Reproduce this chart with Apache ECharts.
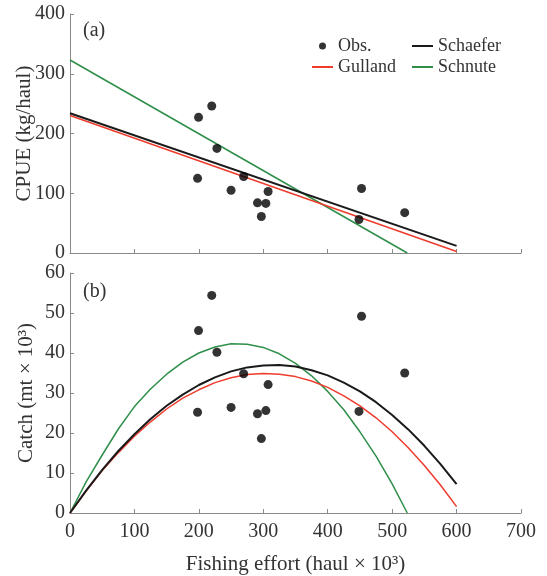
<!DOCTYPE html>
<html>
<head>
<meta charset="utf-8">
<script src="https://cdn.jsdelivr.net/npm/echarts@6/dist/echarts.min.js"></script>
<style>
html,body{margin:0;padding:0;background:#fff;}
#chart{width:547px;height:576px;}
</style>
</head>
<body>
<div id="chart"></div>
<script>
// ---- Data ----
const effortObs = [199.5, 220, 228, 198, 250, 269.5, 291, 304, 297, 307.5, 452.5, 448.5, 519.5];
const cpueObs   = [227, 246, 175, 125, 105, 128, 84, 83, 61, 103, 108, 56, 67.5];
const catchObs  = [45.6, 54.4, 40.2, 25.2, 26.4, 34.8, 24.8, 25.6, 18.6, 32.1, 49.2, 25.4, 35.0];

// panel (a) fitted CPUE lines
const effortFit        = [0, 600];
const schaeferCPUE     = [234, 12];
const gullandCPUE      = [230, 2.6];
const effortSchnuteFit = [0, 523.5];
const schnuteCPUE      = [323, 0];

// panel (b) fitted catch curves
const effortCurve   = [0, 25, 50, 75, 100, 125, 150, 175, 200, 225, 250, 275, 300, 325, 350, 375, 400, 425, 450, 475, 500, 525, 550, 575, 600];
const schaeferCatch = [0, 5.6, 10.8, 15.5, 19.7, 23.5, 26.8, 29.6, 32.0, 33.9, 35.4, 36.4, 36.9, 37.0, 36.6, 35.7, 34.4, 32.6, 30.4, 27.7, 24.5, 20.9, 16.8, 12.2, 7.2];
const gullandCatch  = [0, 5.5, 10.6, 15.1, 19.2, 22.8, 26.0, 28.7, 30.8, 32.6, 33.8, 34.6, 34.9, 34.7, 34.1, 33.0, 31.4, 29.3, 26.8, 23.8, 20.3, 16.3, 11.9, 7.0, 1.6];
const effortSchnuteCurve = [0, 25, 50, 75, 100, 125, 150, 175, 200, 225, 250, 275, 300, 325, 350, 375, 400, 425, 450, 475, 500, 523.5];
const schnuteCatch  = [0, 7.8, 14.5, 21.0, 26.6, 31.0, 34.7, 37.7, 40.0, 41.5, 42.3, 42.2, 41.4, 39.8, 37.4, 34.3, 30.4, 25.8, 20.3, 14.2, 7.3, 0];

const xTicks = [0, 100, 200, 300, 400, 500, 600, 700];

// ---- build ----
const pair = (xs, ys) => xs.map((x, i) => [x, ys[i]]);
const FONT = 'Liberation Serif, Times New Roman, serif';
const AXIS = '#8a8a8a';
const TXT = '#333';
const BLACK = '#1a1a1a', RED = '#ee3b2b', GREEN = '#2f8f4a';

function xAxisCfg(idx, showLabels) {
  return {
    gridIndex: idx, type: 'value', min: xTicks[0], max: xTicks[xTicks.length - 1], interval: 100,
    axisLine: { show: true, lineStyle: { color: AXIS, width: 1 } },
    axisTick: { show: true, inside: true, length: 4, lineStyle: { color: AXIS } },
    axisLabel: { show: showLabels, fontSize: 20, color: TXT, fontFamily: FONT, margin: 9 },
    splitLine: { show: false },
    name: showLabels ? 'Fishing effort (haul \u00d7 10\u00b3)' : '',
    nameLocation: 'middle', nameGap: 41, nameMoveOverlap: false,
    nameTextStyle: { fontSize: 21, color: TXT, fontFamily: FONT }
  };
}
function yAxisCfg(idx, max, interval, name, gap) {
  return {
    gridIndex: idx, type: 'value', min: 0, max: max, interval: interval,
    axisLine: { show: true, lineStyle: { color: AXIS, width: 1 } },
    axisTick: { show: true, inside: true, length: 4, lineStyle: { color: AXIS } },
    axisLabel: { fontSize: 20, color: TXT, fontFamily: FONT, margin: 5 },
    splitLine: { show: false },
    name: name, nameLocation: 'middle', nameGap: gap, nameMoveOverlap: false,
    nameTextStyle: { fontSize: 21, color: TXT, fontFamily: FONT }
  };
}
function lineSeries(name, color, width, xi, data) {
  return {
    name: name, type: 'line', xAxisIndex: xi, yAxisIndex: xi, data: data,
    symbol: 'none', smooth: false, lineStyle: { color: color, width: width },
    itemStyle: { color: color }, silent: true, animation: false
  };
}
function scatterSeries(xi, data) {
  return {
    name: 'Obs.', type: 'scatter', xAxisIndex: xi, yAxisIndex: xi, data: data,
    symbol: 'circle', symbolSize: 9, itemStyle: { color: '#000' }, animation: false, z: 5
  };
}
const hiddenDot = { color: 'rgba(0,0,0,0)', opacity: 0, borderWidth: 0 };

const chart = echarts.init(document.getElementById('chart'), null, { renderer: 'canvas' });
chart.setOption({
  backgroundColor: '#fff',
  animation: false,
  title: [
    { text: '(a)', left: 83, top: 21, padding: 0, textStyle: { fontSize: 20, fontWeight: 'normal', color: TXT, fontFamily: FONT } },
    { text: '(b)', left: 83, top: 282, padding: 0, textStyle: { fontSize: 20, fontWeight: 'normal', color: TXT, fontFamily: FONT } }
  ],
  legend: [
    { data: ['Obs.', { name: 'Gulland', itemStyle: hiddenDot }], orient: 'vertical', left: 311, top: 37, padding: 0, itemGap: 3,
      itemWidth: 21, itemHeight: 7, textStyle: { fontSize: 18, color: TXT, fontFamily: FONT }, selectedMode: false },
    { data: [{ name: 'Schaefer', itemStyle: hiddenDot }, { name: 'Schnute', itemStyle: hiddenDot }], orient: 'vertical', left: 411, top: 37, padding: 0, itemGap: 3,
      itemWidth: 21, itemHeight: 7, textStyle: { fontSize: 18, color: TXT, fontFamily: FONT }, selectedMode: false }
  ],
  grid: [
    { left: 70, top: 14, width: 451, height: 239 },
    { left: 70, top: 273, width: 451, height: 240 }
  ],
  xAxis: [xAxisCfg(0, false), xAxisCfg(1, true)],
  yAxis: [yAxisCfg(0, 400, 100, 'CPUE (kg/haul)', 35), yAxisCfg(1, 60, 10, 'Catch (mt \u00d7 10\u00b3)', 33)],
  series: [
    lineSeries('Schnute', GREEN, 1.5, 0, pair(effortSchnuteFit, schnuteCPUE)),
    lineSeries('Gulland', RED, 1.5, 0, pair(effortFit, gullandCPUE)),
    lineSeries('Schaefer', BLACK, 2, 0, pair(effortFit, schaeferCPUE)),
    scatterSeries(0, pair(effortObs, cpueObs)),
    lineSeries('Schnute', GREEN, 1.5, 1, pair(effortSchnuteCurve, schnuteCatch)),
    lineSeries('Gulland', RED, 1.5, 1, pair(effortCurve, gullandCatch)),
    lineSeries('Schaefer', BLACK, 2, 1, pair(effortCurve, schaeferCatch)),
    scatterSeries(1, pair(effortObs, catchObs))
  ]
});
</script>
</body>
</html>
